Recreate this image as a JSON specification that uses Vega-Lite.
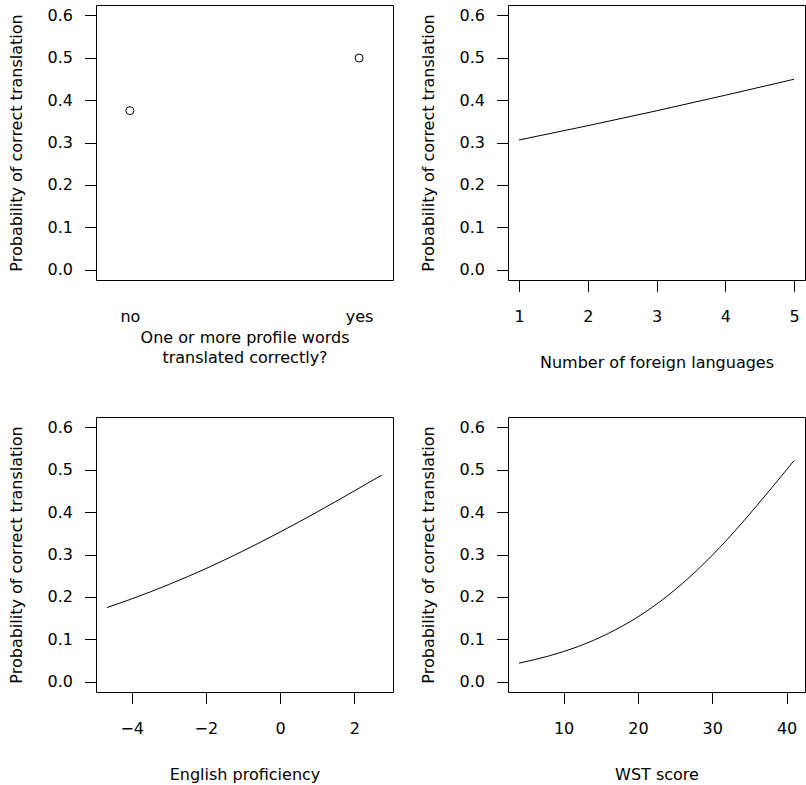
{
  "$schema": "https://vega.github.io/schema/vega-lite/v6.json",
  "background": "white",
  "padding": {"left": 7, "top": 4, "right": 0, "bottom": 0},
  "datasets": {
    "profile": [
      {"x": 1, "p": 0.375},
      {"x": 2, "p": 0.499}
    ],
    "languages": [
      {"x": 1, "p": 0.306},
      {"x": 2, "p": 0.3396},
      {"x": 3, "p": 0.3747},
      {"x": 4, "p": 0.4114},
      {"x": 5, "p": 0.449}
    ],
    "english": [
      {"x": -4.67, "p": 0.175},
      {"x": -4, "p": 0.1954},
      {"x": -3, "p": 0.2292},
      {"x": -2, "p": 0.2668},
      {"x": -1, "p": 0.3083},
      {"x": 0, "p": 0.353},
      {"x": 1, "p": 0.4003},
      {"x": 2, "p": 0.4499},
      {"x": 2.74, "p": 0.487}
    ],
    "wst": [
      {"x": 4, "p": 0.044},
      {"x": 6, "p": 0.0518},
      {"x": 8, "p": 0.0608},
      {"x": 10, "p": 0.0714},
      {"x": 12, "p": 0.0835},
      {"x": 14, "p": 0.0976},
      {"x": 16, "p": 0.1138},
      {"x": 18, "p": 0.1322},
      {"x": 20, "p": 0.153},
      {"x": 22, "p": 0.1765},
      {"x": 24, "p": 0.2028},
      {"x": 26, "p": 0.2319},
      {"x": 28, "p": 0.2637},
      {"x": 30, "p": 0.2982},
      {"x": 32, "p": 0.3351},
      {"x": 34, "p": 0.3743},
      {"x": 36, "p": 0.4151},
      {"x": 38, "p": 0.4571},
      {"x": 40, "p": 0.4998},
      {"x": 41, "p": 0.521}
    ]
  },
  "columns": 2,
  "spacing": {"row": 137, "column": 115},
  "bounds": "flush",
  "concat": [
    {
      "width": 297,
      "height": 275,
      "data": {"name": "profile"},
      "mark": {"type": "point", "shape": "circle", "filled": false, "stroke": "black", "strokeWidth": 1, "size": 64, "opacity": 1},
      "encoding": {
        "x": {"field": "x", "type": "quantitative",
              "scale": {"domain": [0.852, 2.148], "nice": false, "zero": false},
              "axis": {"values": [1, 2], "labelExpr": "datum.value == 1 ? 'no' : 'yes'", "tickOpacity": 0,
                       "title": ["One or more profile words", "\u00a0\u00a0translated correctly?"],
                       "titleLineHeight": 20, "titleY": 62.5, "titleX": 148.5}},
        "y": {"field": "p", "type": "quantitative",
              "scale": {"domain": [-0.024, 0.624], "nice": false, "zero": false},
              "axis": {"title": "Probability of correct translation"}}
      }
    },
    {
      "width": 297,
      "height": 275,
      "data": {"name": "languages"},
      "mark": {"type": "line", "stroke": "black", "strokeWidth": 1, "interpolate": "monotone"},
      "encoding": {
        "x": {"field": "x", "type": "quantitative",
              "scale": {"domain": [0.84, 5.16], "nice": false, "zero": false},
              "axis": {"values": [1, 2, 3, 4, 5], "format": "d", "title": "Number of foreign languages"}},
        "y": {"field": "p", "type": "quantitative",
              "scale": {"domain": [-0.024, 0.624], "nice": false, "zero": false},
              "axis": {"title": "Probability of correct translation"}}
      }
    },
    {
      "width": 297,
      "height": 275,
      "data": {"name": "english"},
      "mark": {"type": "line", "stroke": "black", "strokeWidth": 1, "interpolate": "monotone"},
      "encoding": {
        "x": {"field": "x", "type": "quantitative",
              "scale": {"domain": [-4.962, 3.043], "nice": false, "zero": false},
              "axis": {"values": [-4, -2, 0, 2], "labelExpr": "replace(format(datum.value, 'd'), '-', '\u2212')", "title": "English proficiency"}},
        "y": {"field": "p", "type": "quantitative",
              "scale": {"domain": [-0.024, 0.624], "nice": false, "zero": false},
              "axis": {"title": "Probability of correct translation"}}
      }
    },
    {
      "width": 297,
      "height": 275,
      "data": {"name": "wst"},
      "mark": {"type": "line", "stroke": "black", "strokeWidth": 1, "interpolate": "monotone"},
      "encoding": {
        "x": {"field": "x", "type": "quantitative",
              "scale": {"domain": [2.52, 42.48], "nice": false, "zero": false},
              "axis": {"values": [10, 20, 30, 40], "format": "d", "title": "WST score"}},
        "y": {"field": "p", "type": "quantitative",
              "scale": {"domain": [-0.024, 0.624], "nice": false, "zero": false},
              "axis": {"title": "Probability of correct translation"}}
      }
    }
  ],
  "config": {
    "font": "DejaVu Sans",
    "view": {"stroke": "black", "strokeWidth": 1},
    "axis": {
      "domain": false,
      "grid": false,
      "ticks": true,
      "tickColor": "black",
      "tickWidth": 1,
      "tickSize": 11.5,
      "labelColor": "black",
      "labelFont": "DejaVu Sans",
      "labelFontSize": 16,
      "titleColor": "black",
      "titleFont": "DejaVu Sans",
      "titleFontSize": 16,
      "titleFontWeight": "normal",
      "labelOverlap": false,
      "labelFlush": false
    },
    "axisX": {
      "labelBaseline": "alphabetic",
      "labelPadding": 30,
      "titleX": 148.5,
      "titleY": 87,
      "titleAlign": "center",
      "titleBaseline": "alphabetic"
    },
    "axisY": {
      "values": [0, 0.1, 0.2, 0.3, 0.4, 0.5, 0.6],
      "format": ".1f",
      "labelPadding": 12,
      "labelBaseline": "middle",
      "titleX": -75,
      "titleY": 137.5,
      "titleAngle": 270,
      "titleAlign": "center",
      "titleBaseline": "alphabetic"
    }
  }
}
